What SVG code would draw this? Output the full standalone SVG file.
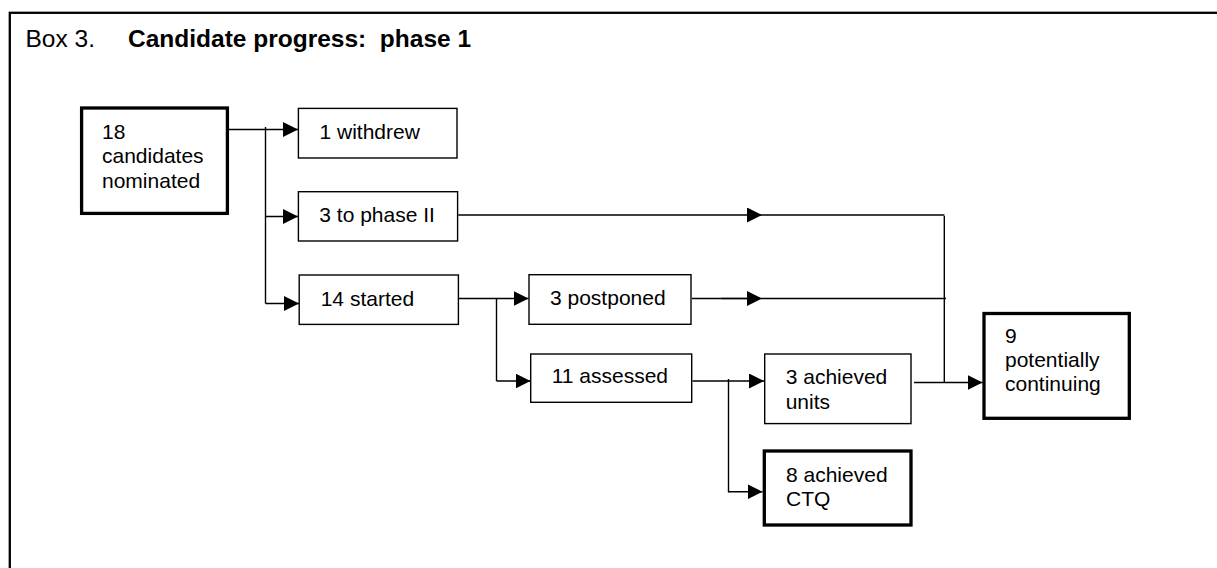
<svg xmlns="http://www.w3.org/2000/svg" width="1217" height="568" viewBox="0 0 1217 568">
<style>
.frame{fill:none;stroke:#000;stroke-width:2.3}
.box{fill:#fff;stroke:#000;stroke-width:1.4}
.thick{fill:#fff;stroke:#000;stroke-width:3.3}
.t{font-family:"Liberation Sans",Arial,sans-serif;font-size:21px;fill:#000}
.title{font-family:"Liberation Sans",Arial,sans-serif;font-size:24.5px;fill:#000;white-space:pre}
.c{fill:none;stroke:#000;stroke-width:1.4}
</style>
<defs>
<marker id="ah" markerUnits="userSpaceOnUse" markerWidth="16" markerHeight="16" refX="15" refY="7.5" orient="auto" viewBox="0 0 16 16">
<path d="M0,0 L15,7.5 L0,15 z" fill="#000"/>
</marker>
</defs>
<rect width="1217" height="568" fill="#fff"/>
<rect class="frame" x="9.8" y="12.8" width="1230" height="580"/>
<g id="title">
<text class="title" x="25.5" y="46.5">Box 3.</text>
<text class="title" x="128" y="46.5" font-weight="bold" xml:space="preserve">Candidate progress:  phase 1</text>
</g>
<g id="connectors">
<path class="c" d="M229,129.5 H298" marker-end="url(#ah)"/>
<path class="c" d="M265.5,127 V303.5"/>
<path class="c" d="M265.5,216.5 H298" marker-end="url(#ah)"/>
<path class="c" d="M265.5,303.5 H299" marker-end="url(#ah)"/>
<path class="c" d="M459,298.5 H528.5" marker-end="url(#ah)"/>
<path class="c" d="M496.5,298.5 V381"/>
<path class="c" d="M496.5,381 H530.5" marker-end="url(#ah)"/>
<path class="c" d="M458.3,215 H762" marker-end="url(#ah)"/>
<path class="c" d="M762,215 H944.5"/>
<path class="c" d="M692,298.5 H762" marker-end="url(#ah)"/>
<path class="c" d="M762,298.5 H946"/>
<path class="c" d="M721.5,298.5 H747" stroke-width="2.2"/>
<path class="c" d="M944.3,216 V382.5"/>
<path class="c" d="M692.5,381 H764" marker-end="url(#ah)"/>
<path class="c" d="M728.5,379 V492.4"/>
<path class="c" d="M728.5,491.7 H762.5" marker-end="url(#ah)"/>
<path class="c" d="M914,382.5 H982.5" marker-end="url(#ah)"/>
</g>
<g id="n18">
<rect class="thick" x="81.6" y="108" width="145.8" height="105.4"/>
<text class="t" x="102" y="138.5">18</text>
<text class="t" x="102" y="163.3">candidates</text>
<text class="t" x="102" y="187.8">nominated</text>
</g>
<g id="withdrew">
<rect class="box" x="298.4" y="108.4" width="158.6" height="49.6"/>
<text class="t" x="319.5" y="138.8">1 withdrew</text>
</g>
<g id="phase2">
<rect class="box" x="298.4" y="191.7" width="159.2" height="49.3"/>
<text class="t" x="319.3" y="222">3 to phase II</text>
</g>
<g id="started">
<rect class="box" x="299.2" y="275" width="159.2" height="49.4"/>
<text class="t" x="320.7" y="305.5">14 started</text>
</g>
<g id="postponed">
<rect class="box" x="529" y="274.7" width="162" height="49.6"/>
<text class="t" x="550" y="305">3 postponed</text>
</g>
<g id="assessed">
<rect class="box" x="530.7" y="354" width="161" height="48.3"/>
<text class="t" x="551.7" y="383.3">11 assessed</text>
</g>
<g id="units">
<rect class="box" x="764.7" y="354" width="146.3" height="69.6"/>
<text class="t" x="785.7" y="384">3 achieved</text>
<text class="t" x="785.7" y="409">units</text>
</g>
<g id="ctq">
<rect class="thick" x="764.3" y="451" width="146.7" height="74"/>
<text class="t" x="786" y="481.7">8 achieved</text>
<text class="t" x="786" y="505.7">CTQ</text>
</g>
<g id="continuing">
<rect class="thick" x="984" y="313.5" width="145.3" height="104.8" stroke-width="3.5"/>
<text class="t" x="1005" y="342.7">9</text>
<text class="t" x="1005" y="367">potentially</text>
<text class="t" x="1005" y="391">continuing</text>
</g>
</svg>
